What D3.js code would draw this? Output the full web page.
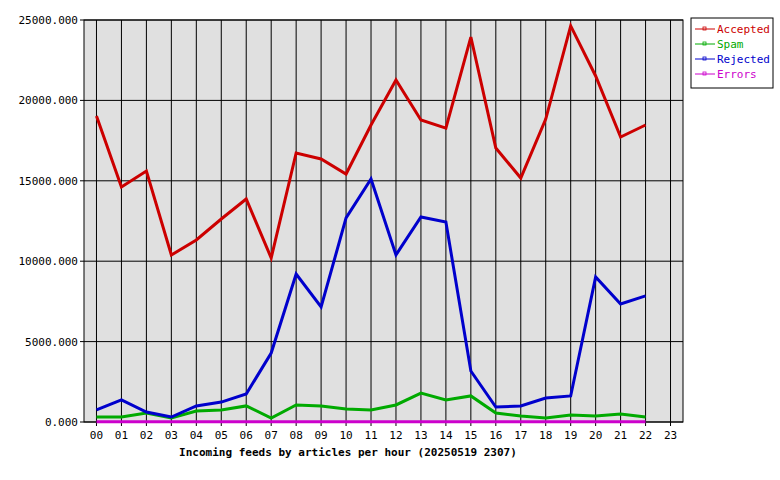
<!DOCTYPE html>
<html>
<head>
<meta charset="utf-8">
<script src="https://cdn.jsdelivr.net/npm/d3@7"></script>
<style>
body { margin: 0; background: #fff; }
text { font-family: "DejaVu Sans Mono", monospace; font-size: 11px; }
</style>
</head>
<body>
<div class="container"></div>
<script>
var hours = ["00","01","02","03","04","05","06","07","08","09","10","11","12","13","14","15","16","17","18","19","20","21","22","23"];
var accepted = [19030,14615,15610,10385,11320,12625,13870,10200,16730,16355,15420,18470,21270,18780,18280,23940,17040,15170,18840,24630,21520,17720,18470];
var spam = [310,310,560,250,680,750,1000,250,1060,1000,810,750,1060,1800,1370,1620,560,370,250,440,370,500,310];
var rejected = [750,1370,620,310,1000,1240,1740,4290,9200,7150,12690,15110,10390,12750,12440,3170,930,1000,1490,1620,9020,7340,7840];
var errors = [20,20,20,20,20,20,20,20,20,20,20,20,20,20,20,20,20,20,20,20,20,20,20];
var yTicks = [0,5000,10000,15000,20000,25000];
var seriesNames = ["Accepted","Spam","Rejected","Errors"];
var seriesColors = ["#cc0000","#00aa00","#0000cc","#cc00cc"];
var seriesData = [accepted, spam, rejected, errors];

(function() {
	var width = 780, height = 480;
	var pLeft = 84, pRight = 683, pTop = 20, pBottom = 422;

	var svg = d3.select(".container").append("svg")
		.attr("width", width)
		.attr("height", height);

	var x = d3.scaleBand().domain(hours).range([pLeft, pRight]);
	var y = d3.scaleLinear().domain([0, 25000]).range([pBottom, pTop]);
	var cx = function(h) { return x(h) + x.bandwidth() / 2; };

	svg.append("rect")
		.attr("x", pLeft).attr("y", pTop)
		.attr("width", pRight - pLeft).attr("height", pBottom - pTop)
		.attr("fill", "#e0e0e0").attr("stroke", "#000");

	// grid
	svg.selectAll(".vg").data(hours).enter().append("line")
		.attr("x1", function(d) { return cx(d); }).attr("x2", function(d) { return cx(d); })
		.attr("y1", pTop).attr("y2", pBottom + 4)
		.attr("stroke", "#000").attr("stroke-width", 1);
	svg.selectAll(".hg").data(yTicks).enter().append("line")
		.attr("x1", pLeft - 4).attr("x2", pRight)
		.attr("y1", function(d) { return y(d); }).attr("y2", function(d) { return y(d); })
		.attr("stroke", "#000").attr("stroke-width", 1);

	svg.selectAll(".yl").data(yTicks).enter().append("text")
		.attr("x", pLeft - 6).attr("y", function(d) { return y(d) + 4; })
		.attr("text-anchor", "end")
		.text(function(d) { return d3.format(".3f")(d); });
	svg.selectAll(".xl").data(hours).enter().append("text")
		.attr("x", function(d) { return cx(d); }).attr("y", pBottom + 17)
		.attr("text-anchor", "middle")
		.text(function(d) { return d; });

	svg.append("text")
		.attr("x", 348).attr("y", 456)
		.attr("text-anchor", "middle")
		.attr("font-weight", "bold")
		.text("Incoming feeds by articles per hour (20250519 2307)");

	var line = d3.line()
		.x(function(d, i) { return cx(hours[i]); })
		.y(function(d) { return y(d); });

	// back to front so Accepted ends on top
	[3, 1, 2, 0].forEach(function(k) {
		svg.append("path")
			.attr("d", line(seriesData[k]))
			.attr("fill", "none")
			.attr("stroke", seriesColors[k])
			.attr("stroke-width", 3);
	});

	// legend
	var lg = svg.append("g").attr("transform", "translate(691,18)");
	lg.append("rect").attr("width", 82).attr("height", 70)
		.attr("fill", "#fff").attr("stroke", "#000");
	seriesNames.forEach(function(name, i) {
		var ly = 15 + i * 15;
		lg.append("line").attr("x1", 4).attr("x2", 24).attr("y1", ly - 4).attr("y2", ly - 4)
			.attr("stroke", seriesColors[i]).attr("stroke-width", 1);
		lg.append("rect").attr("x", 12).attr("y", ly - 6).attr("width", 3).attr("height", 3)
			.attr("fill", "none").attr("stroke", seriesColors[i]).attr("stroke-width", 0.8);
		lg.append("text").attr("x", 26).attr("y", ly).attr("fill", seriesColors[i]).text(name);
	});
})();
</script>
</body>
</html>
